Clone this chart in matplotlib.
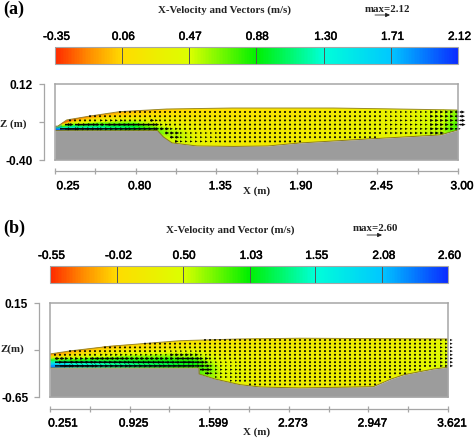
import numpy as np
import matplotlib
matplotlib.use("Agg")
import matplotlib.pyplot as plt
import matplotlib.patheffects as pe
from matplotlib.cm import ScalarMappable
from matplotlib.colors import LinearSegmentedColormap, Normalize
from matplotlib.patches import Polygon
from matplotlib.transforms import ScaledTranslation

W, H = 474, 439

# panel a
a_xlim = (0.25, 3.00)
a_zlim = (-0.40, 0.12)
a_xticks = [0.25, 0.525, 0.80, 1.075, 1.35, 1.625, 1.90, 2.175, 2.45, 2.725, 3.00]
a_xlabels = ["0.25", "", "0.80", "", "1.35", "", "1.90", "", "2.45", "", "3.00"]
a_zticks = [-0.40, -0.14, 0.12]
a_zlabels = ["-0.40", "", "0.12"]
a_cticks = [-0.35, 0.06, 0.47, 0.88, 1.30, 1.71, 2.12]
a_surf_x = [0.25, 0.27, 0.33, 0.49, 0.69, 1.01, 1.46, 2.15, 2.60, 3.00]
a_surf_z = [-0.17, -0.169, -0.127, -0.10, -0.07, -0.052, -0.045, -0.045, -0.052, -0.059]
a_bed_x = [0.25, 0.95, 0.99, 1.05, 1.22, 1.47, 1.70, 1.92, 2.38, 2.88, 3.00]
a_bed_z = [-0.20, -0.20, -0.244, -0.285, -0.306, -0.309, -0.306, -0.285, -0.258, -0.23, -0.196]
a_stations = [0.25, 0.30, 0.40, 0.6, 0.8, 1.0, 1.2, 1.5, 1.9, 2.3, 2.7, 2.9, 3.0]
# x-velocity at each station, bed to surface
a_u = [[2.1, 2.1, 2.1, 2.0, 1.9, 1.9, 1.9, 1.9],
       [1.9, 1.9, 1.6, 1.3, 0.9, 0.6, 0.2, -0.2],
       [1.5, 1.5, 1.2, 0.9, 0.5, 0.3, 0.0, -0.2],
       [1.2, 1.2, 1.0, 0.7, 0.4, 0.2, 0.05, -0.1],
       [0.9, 1.0, 0.9, 0.6, 0.3, 0.15, 0.05, -0.05],
       [0.5, 0.6, 0.6, 0.4, 0.3, 0.2, 0.1, 0.02],
       [0.35, 0.35, 0.35, 0.3, 0.25, 0.2, 0.15, 0.06],
       [0.22, 0.22, 0.22, 0.2, 0.2, 0.18, 0.15, 0.1],
       [0.22, 0.22, 0.22, 0.22, 0.22, 0.2, 0.18, 0.16],
       [0.3, 0.3, 0.3, 0.28, 0.27, 0.26, 0.25, 0.24],
       [0.4, 0.4, 0.38, 0.38, 0.37, 0.36, 0.35, 0.33],
       [0.55, 0.55, 0.54, 0.52, 0.5, 0.5, 0.48, 0.46],
       [0.8, 0.8, 0.78, 0.75, 0.72, 0.7, 0.68, 0.65]]

# panel b
b_xlim = (0.251, 3.621)
b_zlim = (-0.65, 0.15)
b_xticks = [0.251, 0.588, 0.925, 1.262, 1.599, 1.936, 2.273, 2.61, 2.947, 3.284, 3.621]
b_xlabels = ["0.251", "", "0.925", "", "1.599", "", "2.273", "", "2.947", "", "3.621"]
b_zticks = [-0.65, -0.25, 0.15]
b_zlabels = ["-0.65", "", "0.15"]
b_cticks = [-0.55, -0.02, 0.50, 1.03, 1.55, 2.08, 2.60]
b_surf_x = [0.251, 0.42, 0.76, 1.35, 1.86, 2.37, 3.621]
b_surf_z = [-0.284, -0.258, -0.218, -0.171, -0.156, -0.15, -0.156]
b_bed_x = [0.251, 1.513, 1.514, 1.648, 1.86, 2.03, 2.37, 2.99, 3.14, 3.25, 3.50, 3.621]
b_bed_z = [-0.403, -0.403, -0.454, -0.497, -0.545, -0.565, -0.573, -0.562, -0.497, -0.46, -0.412, -0.397]
b_stations = [0.251, 0.32, 0.42, 0.7, 1.0, 1.3, 1.5, 1.7, 2.0, 2.4, 2.9, 3.2, 3.45, 3.621]
b_u = [[2.3, 2.3, 2.0, 1.6, 1.2, 0.6, 0.0, -0.3],
       [2.3, 2.2, 1.9, 1.3, 0.8, 0.2, -0.1, -0.3],
       [1.9, 1.8, 1.6, 1.1, 0.6, 0.15, -0.05, -0.25],
       [1.5, 1.5, 1.3, 0.9, 0.5, 0.2, 0.05, -0.15],
       [1.3, 1.3, 1.1, 0.8, 0.45, 0.2, 0.1, -0.05],
       [1.1, 1.15, 1.0, 0.7, 0.4, 0.22, 0.12, 0.02],
       [0.9, 1.0, 0.9, 0.6, 0.4, 0.25, 0.15, 0.08],
       [0.4, 0.45, 0.45, 0.4, 0.3, 0.22, 0.16, 0.1],
       [0.25, 0.27, 0.27, 0.25, 0.24, 0.22, 0.18, 0.14],
       [0.22, 0.22, 0.22, 0.22, 0.22, 0.21, 0.2, 0.18],
       [0.24, 0.24, 0.24, 0.24, 0.24, 0.23, 0.23, 0.22],
       [0.3, 0.3, 0.3, 0.3, 0.28, 0.27, 0.26, 0.25],
       [0.38, 0.38, 0.37, 0.36, 0.35, 0.34, 0.33, 0.32],
       [0.52, 0.52, 0.52, 0.5, 0.48, 0.46, 0.45, 0.44]]

plt.rcParams["font.family"] = "Liberation Sans"
SERIF = "Liberation Serif"
GREY = "#a6a6a6"
HEAVY = [pe.withStroke(linewidth=0.35, foreground="black")]

cmap = LinearSegmentedColormap.from_list("tecplot", [
    (0.0, "#ff2a00"), (0.08, "#ff8a00"), (0.1667, "#ffdc00"), (0.3333, "#dcff00"),
    (0.5, "#00f000"), (0.6667, "#00ffd8"), (0.8333, "#00c8ff"), (1.0, "#0a2cff")])

fig = plt.figure(figsize=(W / 100, H / 100), dpi=100)


def px_axes(left, top, right, bottom):
    return fig.add_axes([left / W, 1 - bottom / H, (right - left) / W, (bottom - top) / H])


def px_text(x, y, s, **kw):
    kw.setdefault("ha", "center")
    kw.setdefault("va", "center")
    kw.setdefault("family", SERIF)
    kw.setdefault("weight", "bold")
    kw.setdefault("fontsize", 7.8)
    kw.setdefault("color", "#222222")
    return fig.text(x / W, 1 - y / H, s, **kw)


def panel(box, bar_y, xlim, zlim, xticks, xlabels, zticks, zlabels, cticks,
          surf_x, surf_z, bed_x, bed_z, stations, u, row_step, rows_top):
    left, top, right, bottom = box
    u = np.array(u)
    stations = np.array(stations)

    # colour bar
    norm = Normalize(cticks[0], cticks[-1])
    cax = px_axes(left, bar_y[0], right, bar_y[1])
    cb = fig.colorbar(ScalarMappable(norm, cmap), cax=cax, orientation="horizontal",
                      ticks=cticks, ticklocation="top")
    cb.ax.set_xticklabels(["%.2f" % c for c in cticks])
    cb.ax.tick_params(length=0, pad=3, labelsize=8.5)
    cb.outline.set_edgecolor(GREY)
    for c in cticks[1:-1]:
        cax.axvline(c, color="#555555", lw=0.7)
    shift = ScaledTranslation(1.5 / 100, 0, fig.dpi_scale_trans)
    for lab in cax.get_xticklabels():
        lab.set_transform(lab.get_transform() + shift)
        lab.set_path_effects(HEAVY)

    ax = px_axes(left, top, right, bottom)
    ax.set_xlim(xlim)
    ax.set_ylim(zlim)
    ax.set_xticks([])
    ax.set_yticks([])
    for s in ax.spines.values():
        s.set_color(GREY)
        s.set_linewidth(1.1)
        s.set_zorder(6)

    # water region
    surf_on = np.interp(stations, surf_x, surf_z)
    bed_on = np.interp(stations, bed_x, bed_z)
    frac = np.arange(u.shape[1]) / (u.shape[1] - 1)
    frac_pad = np.concatenate(([-0.6], frac, [1.6]))
    u_pad = np.column_stack((u[:, 0], u, u[:, -1]))
    X = np.tile(stations[:, None], (1, len(frac_pad)))
    Z = bed_on[:, None] + frac_pad[None, :] * (surf_on - bed_on)[:, None]
    mesh = ax.pcolormesh(X, Z, u_pad, cmap=cmap, norm=norm, shading="gouraud", zorder=1)
    outline = list(zip(surf_x, surf_z)) + list(zip(bed_x[::-1], bed_z[::-1]))
    water = Polygon(outline, closed=True, transform=ax.transData, fc="none", ec="none")
    ax.add_patch(water)
    mesh.set_clip_path(water)

    # bed
    ax.fill_between(bed_x, bed_z, zlim[0], color="#9c9c9c", lw=0, zorder=2)
    ax.plot(bed_x, bed_z, color="#8a7a1c", lw=0.7, zorder=3)
    ax.plot(surf_x, surf_z, color="#9a8a2c", lw=0.7, zorder=3)

    # vectors, each one takes the velocity of the table cell it sits in
    dx = (xlim[1] - xlim[0]) / (right - left) * 5
    dz = (zlim[1] - zlim[0]) / (bottom - top) * row_step
    zmax = zlim[1] - (rows_top - top) * (zlim[1] - zlim[0]) / (bottom - top)
    gx, gz = np.meshgrid(np.arange(xlim[0] + dx, xlim[1] + dx / 2, dx),
                         np.arange(zmax, zlim[0], -dz))
    gs = np.interp(gx, surf_x, surf_z)
    gb = np.interp(gx, bed_x, bed_z)
    inside = (gz < gs) & (gz > gb + 0.3 * dz)
    gx, gz, gs, gb = gx[inside], gz[inside], gs[inside], gb[inside]
    col = np.abs(gx[:, None] - stations[None, :]).argmin(axis=1)
    row = np.rint((gz - gb) / (gs - gb) * (u.shape[1] - 1)).astype(int)
    gu = u[col, row]
    px_per_ms = 15 / cticks[-1]
    ax.quiver(gx, gz, np.abs(gu), np.zeros_like(gu), units="dots", width=1.5,
              scale=1 / px_per_ms, scale_units="dots", angles="uv", pivot="tail",
              headwidth=2.2, headlength=2.4, headaxislength=2.1, minlength=1.5,
              color="#050505", zorder=4, clip_on=False)

    # offset axes below and left of the frame
    sx = ax.secondary_xaxis(-11.5 / (bottom - top))
    sx.set_xticks(xticks)
    sx.set_xticklabels(xlabels)
    sx.tick_params(direction="inout", length=5, width=0.9, color=GREY, pad=4, labelsize=8.5)
    sx.spines["bottom"].set_color(GREY)
    sx.spines["bottom"].set_linewidth(0.9)
    for i, lab in enumerate(sx.get_xticklabels()):
        off = 13 if i == 0 else 4
        lab.set_transform(lab.get_transform() + ScaledTranslation(off / 100, 0, fig.dpi_scale_trans))
        lab.set_path_effects(HEAVY)
    sy = ax.secondary_yaxis(-11 / (right - left))
    sy.set_yticks(zticks)
    sy.set_yticklabels(zlabels)
    sy.tick_params(length=3.5, width=0.9, color=GREY, pad=4.3, labelsize=8.6)
    sy.spines["left"].set_color(GREY)
    sy.spines["left"].set_linewidth(0.9)
    for lab in sy.get_yticklabels():
        lab.set_fontweight("bold")
    return ax


panel((55, 85, 458, 160.7), (48, 65), a_xlim, a_zlim, a_xticks, a_xlabels, a_zticks, a_zlabels,
      a_cticks, a_surf_x, a_surf_z, a_bed_x, a_bed_z, a_stations, a_u, 4.2, 113)
panel((50, 304, 448, 398), (267, 284), b_xlim, b_zlim, b_xticks, b_xlabels, b_zticks, b_zlabels,
      b_cticks, b_surf_x, b_surf_z, b_bed_x, b_bed_z, b_stations, b_u, 3.7, 341)

px_text(3, 9, "(a)", ha="left", fontsize=13, color="black")
px_text(224, 10, "X-Velocity and Vectors (m/s)")
px_text(387, 10, "max=2.12")
px_text(13, 124, "Z (m)")
px_text(257, 191, "X (m)")

px_text(3, 228, "(b)", ha="left", fontsize=13, color="black")
px_text(230, 230, "X-Velocity and Vector (m/s)")
px_text(375, 229, "max=2.60")
px_text(12, 349, "Z(m)")
px_text(257, 432, "X (m)")

# reference arrows next to the max labels
for x0, x1, y in [(375, 390, 16), (367, 382, 236)]:
    fig.add_artist(plt.Annotation("", xy=(x1 / W, 1 - y / H), xytext=(x0 / W, 1 - y / H),
                                  xycoords="figure fraction", textcoords="figure fraction",
                                  arrowprops=dict(arrowstyle="-|>,head_length=0.25,head_width=0.12",
                                                  color="#222222", lw=0.6, shrinkA=0, shrinkB=0)))

fig.savefig("out.png", dpi=100)
